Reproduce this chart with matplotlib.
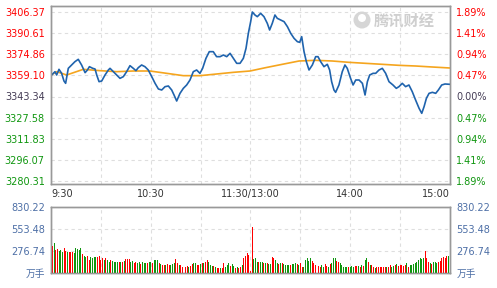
import numpy as np
import matplotlib
matplotlib.use('Agg')
import matplotlib.pyplot as plt
from matplotlib.patches import Ellipse

plt.rcParams['font.family'] = ['DejaVu Sans', 'Noto Sans CJK SC']

# axis values
prev_close = 3343.34
price_ticks = [3280.31, 3296.07, 3311.83, 3327.58, 3343.34, 3359.10, 3374.86, 3390.61, 3406.37]
vol_ticks = [0, 276.74, 553.48, 830.22]
vol_labels = ['万手', '276.74', '553.48', '830.22']
time_ticks = [0, 60, 120, 180, 240]
time_labels = ['9:30', '10:30', '11:30/13:00', '14:00', '15:00']

# price line (minutes since 9:30, trading minutes only)
px_min = [0, 1.4, 2.4, 3.4, 4.8, 6.4, 7.8, 8.8, 10.4, 12.4, 14.4, 16.4, 18.4, 20.5, 21.9,
          23.1, 25.1, 26.5, 27.5, 28.9, 30.5, 32.5, 34.5, 35.5, 37.5, 39.5, 41.5, 43.5,
          45.5, 47.5, 49.5, 51.1, 52.5, 54.5, 56.5, 58.5, 60.6, 62.6, 64.6, 66.6, 68.6,
          70.6, 72.6, 74.0, 75.6, 77.6, 79.6, 81.6, 83.6, 85.6, 87.6, 89.6, 91.2, 93.2,
          95.2, 97.6, 99.6, 101.7, 103.7, 105.7, 107.7, 109.7, 111.7, 113.7, 115.7, 117.3,
          118.7, 120.1, 121.1, 122.7, 124.1, 126.1, 128.1, 130.1, 131.5, 133.1, 134.7,
          136.1, 138.1, 140.2, 142.2, 144.2, 146.2, 148.2, 149.6, 150.8, 152.2, 153.6,
          155.2, 157.2, 159.2, 160.6, 162.2, 164.2, 166.2, 167.6, 168.8, 170.2, 171.2,
          173.2, 175.2, 176.8, 178.2, 180.2, 181.7, 183.3, 185.3, 187.3, 188.9, 190.3,
          191.7, 193.7, 195.3, 197.3, 199.3, 201.3, 203.3, 205.7, 207.7, 209.3, 211.3,
          213.3, 215.3, 217.3, 219.3, 221.4, 223.0, 224.4, 225.8, 227.4, 229.4, 231.4,
          233.0, 235.0, 237.0, 240]
px_val = [3358.88, 3360.62, 3361.86, 3359.38, 3363.60, 3360.62, 3354.90, 3353.16, 3364.35,
          3366.84, 3369.32, 3371.06, 3366.84, 3361.12, 3363.11, 3365.59, 3364.35, 3363.85,
          3359.38, 3354.40, 3354.90, 3359.38, 3363.11, 3364.35, 3361.86, 3359.38, 3356.89,
          3358.14, 3361.86, 3366.34, 3364.35, 3362.61, 3364.85, 3366.84, 3365.59, 3363.11,
          3358.14, 3353.16, 3348.94, 3348.19, 3350.68, 3351.17, 3348.19, 3344.46, 3339.98,
          3345.70, 3349.43, 3351.92, 3355.65, 3361.86, 3363.11, 3360.62, 3364.35, 3371.81,
          3376.78, 3376.78, 3373.05, 3373.05, 3374.30, 3373.05, 3375.54, 3371.81, 3368.08,
          3368.08, 3371.81, 3379.27, 3390.46, 3399.16, 3406.37, 3404.13, 3402.89, 3405.38,
          3402.89, 3397.92, 3392.94, 3397.92, 3404.13, 3401.65, 3400.40, 3399.16, 3395.43,
          3390.46, 3386.73, 3384.24, 3383.75, 3387.97, 3376.78, 3369.32, 3363.11, 3366.84,
          3373.05, 3373.05, 3369.32, 3365.59, 3367.34, 3363.11, 3354.40, 3348.19, 3346.45,
          3351.92, 3361.86, 3366.84, 3364.35, 3356.89, 3351.92, 3355.65, 3355.65, 3353.16,
          3344.46, 3354.40, 3359.38, 3360.62, 3360.62, 3363.11, 3364.35, 3360.62, 3354.40,
          3351.92, 3349.43, 3350.68, 3353.16, 3350.68, 3351.92, 3346.95, 3340.73, 3334.51,
          3330.79, 3335.76, 3341.97, 3345.70, 3346.45, 3345.70, 3348.19, 3351.92, 3352.67,
          3352.42]

# average price line
avg_min = [0, 3.4, 9.4, 19.4, 29.5, 39.5, 49.5, 59.5, 69.6, 79.6, 89.6, 99.6, 109.7, 119.7,
           129.1, 139.1, 149.2, 159.2, 169.2, 179.2, 189.3, 199.3, 209.3, 219.3, 229.4, 240]
avg_val = [3359.38, 3361.86, 3359.38, 3363.60, 3362.61, 3361.86, 3362.36, 3362.36, 3360.62,
           3358.88, 3358.88, 3360.12, 3361.37, 3362.36, 3364.85, 3367.34, 3369.82, 3370.32,
           3369.82, 3368.83, 3368.08, 3367.34, 3366.59, 3366.09, 3365.34, 3364.60]

# volume per minute (万手), r = up minute, g = down minute
am_vol = [830, 344, 373, 289, 298, 277, 289, 260, 310, 277,
          268, 260, 260, 268, 247, 310, 302, 289, 310, 235,
          218, 205, 218, 164, 205, 184, 205, 205, 205, 218,
          164, 184, 164, 184, 164, 143, 164, 151, 143, 143,
          134, 143, 143, 143, 151, 176, 176, 176, 143, 151,
          122, 143, 130, 143, 109, 134, 122, 122, 122, 134,
          134, 122, 164, 164, 164, 122, 109, 101, 101, 101,
          109, 101, 101, 109, 122, 176, 122, 101, 101, 80,
          80, 80, 92, 80, 92, 109, 122, 122, 101, 101,
          109, 122, 122, 134, 164, 134, 101, 92, 92, 80,
          67, 59, 67, 67, 122, 80, 101, 122, 92, 109,
          92, 67, 80, 59, 80, 101, 184, 218, 247, 226, 20]
am_dir = ("rrgrrgggrr" "grrrgggggr" "ggrrggggrr" "rrgrggrggg" "grgrgrrrgg" "rrggrgggrg"
          "grgggrgrrg" "rrgggrrgrr" "rrrgrrggrr" "grgrrgggrg" "rrgrrgggrg" "grgrrgrrrrr")
pm_vol = [575, 176, 193, 143, 134, 134, 134, 122, 122, 122,
          109, 109, 205, 193, 164, 122, 109, 122, 122, 109,
          101, 101, 101, 101, 109, 109, 122, 109, 101, 122,
          80, 80, 164, 193, 151, 184, 151, 122, 101, 67,
          92, 80, 101, 80, 109, 92, 80, 109, 122, 193,
          184, 151, 134, 122, 101, 80, 80, 80, 80, 80, 92,
          80, 92, 92, 92, 80, 101, 92, 164, 184, 143,
          101, 101, 80, 67, 80, 80, 80, 80, 80, 80,
          80, 80, 101, 80, 92, 101, 109, 92, 101, 101,
          92, 101, 122, 80, 101, 101, 109, 122, 143, 164,
          184, 176, 193, 277, 184, 143, 122, 109, 134, 134,
          122, 143, 151, 193, 205, 184, 218, 218, 80]
pm_dir = ("rgggrggrgr" "ggrrggrgrg" "gggrgggrgr" "rgggggrrrg" "rrggrrgrgg" "grrgggggrgg"
          "grrgrgrggr" "grrgrrrrrr" "grrggrgrrr" "rrgrgggggg" "gggrrrgrgg" "grrrrrrgr")

red = '#ff0000'
green = '#0f960f'
dark = '#443c55'
vol_blue = '#4d6fa6'
frame = '#999999'
gridc = '#dedede'

fig = plt.figure(figsize=(4.97, 2.88), dpi=100)
ax = fig.add_axes([51/497, 104/288, 399/497, 178/288])
axv = fig.add_axes([51/497, 15/288, 399/497, 66/288])

step = (price_ticks[-1] - price_ticks[0]) / 169  # price per pixel
ymin = price_ticks[0] - 3*step
ymax = price_ticks[-1] + 6*step

ax.plot(avg_min, avg_val, color='#f5a51e', lw=1.2, zorder=3)
ax.plot(px_min, px_val, color='#1f63ad', lw=1.2, zorder=4)
ax.set_xlim(0, 240)
ax.set_ylim(ymin, ymax)
ax.set_yticks(price_ticks)
ax.set_yticklabels([f'{p:.2f}' for p in price_ticks])
ax.set_xticks(time_ticks)
ax.set_xticklabels(time_labels)
ax.set_xticks([30, 90, 150, 210], minor=True)
ax.grid(which='both', color=gridc, ls=(0, (3, 3)), lw=0.8)
ax.tick_params(which='both', length=0, labelsize=7)
ax.tick_params(axis='y', pad=4.5)
ax.tick_params(axis='x', pad=3.5, colors='#333333')
xl = ax.get_xticklabels()
xl[0].set_ha('left')
xl[-1].set_ha('right')

def tick_color(p):
    if abs(p - prev_close) < 0.01:
        return dark
    return red if p > prev_close else green

for lab, p in zip(ax.get_yticklabels(), price_ticks):
    lab.set_color(tick_color(p))

axr = ax.twinx()
axr.set_ylim(ymin, ymax)
axr.set_yticks(price_ticks)
axr.set_yticklabels([f'{abs(p - prev_close) / prev_close * 100:.2f}%' for p in price_ticks])
axr.tick_params(length=0, labelsize=7, pad=4.5)
for lab, p in zip(axr.get_yticklabels(), price_ticks):
    lab.set_color(tick_color(p))

# volume panel
vols = am_vol + pm_vol
dirs = am_dir + pm_dir
cols = [red if d == 'r' else green for d in dirs]
axv.bar(np.arange(len(vols)), vols, width=0.6, color=cols, zorder=3)
axv.set_xlim(0, 240)
axv.set_ylim(0, vol_ticks[-1])
axv.set_yticks(vol_ticks)
axv.set_yticklabels(vol_labels)
axv.set_xticks(time_ticks)
axv.set_xticks([30, 90, 150, 210], minor=True)
axv.set_xticklabels([])
axv.grid(which='both', color=gridc, ls=(0, (3, 3)), lw=0.8)
axv.tick_params(which='both', length=0, labelsize=7, pad=4.5, colors=vol_blue)

axvr = axv.twinx()
axvr.set_ylim(0, vol_ticks[-1])
axvr.set_yticks(vol_ticks)
axvr.set_yticklabels(vol_labels)
axvr.tick_params(length=0, labelsize=7, pad=4.5, colors=vol_blue)

for a in (ax, axr, axv, axvr):
    for s in a.spines.values():
        s.set_color(frame)
        s.set_linewidth(1.0)

# watermark
fig.patches.append(Ellipse((362/497, 1 - 20/288), 17/497, 17/288, transform=fig.transFigure,
                           facecolor='#d6d6d6', edgecolor='none', zorder=0))
fig.patches.append(Ellipse((362/497, 1 - 18/288), 8/497, 8/288, transform=fig.transFigure,
                           facecolor='white', edgecolor='none', zorder=0))
ax.text(374/497, 1 - 20/288, '腾讯财经', transform=fig.transFigure, fontsize=11,
        color='#cfcfcf', fontweight='bold', va='center', ha='left',
        family=['Noto Sans CJK SC'], zorder=1)

fig.savefig('out.png', dpi=100)
